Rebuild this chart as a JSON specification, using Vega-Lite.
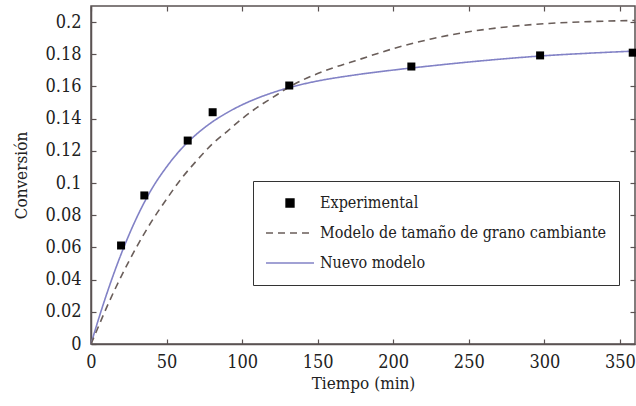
{
  "$schema": "https://vega.github.io/schema/vega-lite/v6.json",
  "autosize": {"type": "none"},
  "width": 544,
  "height": 338,
  "padding": {"left": 91, "top": 6, "right": 1, "bottom": 62},
  "background": "white",
  "config": {
    "font": "DejaVu Serif Condensed, DejaVu Serif",
    "view": {"stroke": "#5a5252", "strokeWidth": 1.5},
    "axis": {
      "grid": false,
      "domainColor": "#5a5252",
      "domainWidth": 1.5,
      "tickColor": "#5a5252",
      "tickWidth": 1.2,
      "tickSize": -5,
      "labelFont": "DejaVu Serif Condensed, DejaVu Serif",
      "labelFontSize": 18,
      "labelColor": "#222222",
      "titleFont": "DejaVu Serif Condensed, DejaVu Serif",
      "titleFontSize": 17,
      "titleFontWeight": "normal",
      "titleColor": "#222222"
    }
  },
  "datasets": {
    "curves": [
      {"serie": "Nuevo modelo", "t": 0, "conv": 0},
      {"serie": "Nuevo modelo", "t": 5, "conv": 0.0155},
      {"serie": "Nuevo modelo", "t": 10, "conv": 0.0300},
      {"serie": "Nuevo modelo", "t": 15, "conv": 0.0435},
      {"serie": "Nuevo modelo", "t": 20, "conv": 0.0560},
      {"serie": "Nuevo modelo", "t": 25, "conv": 0.0675},
      {"serie": "Nuevo modelo", "t": 30, "conv": 0.0780},
      {"serie": "Nuevo modelo", "t": 35, "conv": 0.0875},
      {"serie": "Nuevo modelo", "t": 40, "conv": 0.0960},
      {"serie": "Nuevo modelo", "t": 50, "conv": 0.1100},
      {"serie": "Nuevo modelo", "t": 60, "conv": 0.1215},
      {"serie": "Nuevo modelo", "t": 70, "conv": 0.1305},
      {"serie": "Nuevo modelo", "t": 80, "conv": 0.1378},
      {"serie": "Nuevo modelo", "t": 90, "conv": 0.1437},
      {"serie": "Nuevo modelo", "t": 100, "conv": 0.1486},
      {"serie": "Nuevo modelo", "t": 110, "conv": 0.1527},
      {"serie": "Nuevo modelo", "t": 120, "conv": 0.1561},
      {"serie": "Nuevo modelo", "t": 130, "conv": 0.1590},
      {"serie": "Nuevo modelo", "t": 140, "conv": 0.1614},
      {"serie": "Nuevo modelo", "t": 150, "conv": 0.1634},
      {"serie": "Nuevo modelo", "t": 175, "conv": 0.1672},
      {"serie": "Nuevo modelo", "t": 200, "conv": 0.1702},
      {"serie": "Nuevo modelo", "t": 225, "conv": 0.1728},
      {"serie": "Nuevo modelo", "t": 250, "conv": 0.1752},
      {"serie": "Nuevo modelo", "t": 275, "conv": 0.1773},
      {"serie": "Nuevo modelo", "t": 300, "conv": 0.1791},
      {"serie": "Nuevo modelo", "t": 330, "conv": 0.1807},
      {"serie": "Nuevo modelo", "t": 360, "conv": 0.1820},
      {"serie": "Modelo de tamaño de grano cambiante", "t": 0, "conv": 0},
      {"serie": "Modelo de tamaño de grano cambiante", "t": 5, "conv": 0.011},
      {"serie": "Modelo de tamaño de grano cambiante", "t": 10, "conv": 0.022},
      {"serie": "Modelo de tamaño de grano cambiante", "t": 20, "conv": 0.042},
      {"serie": "Modelo de tamaño de grano cambiante", "t": 30, "conv": 0.060},
      {"serie": "Modelo de tamaño de grano cambiante", "t": 40, "conv": 0.076},
      {"serie": "Modelo de tamaño de grano cambiante", "t": 50, "conv": 0.090},
      {"serie": "Modelo de tamaño de grano cambiante", "t": 60, "conv": 0.103},
      {"serie": "Modelo de tamaño de grano cambiante", "t": 70, "conv": 0.114},
      {"serie": "Modelo de tamaño de grano cambiante", "t": 80, "conv": 0.124},
      {"serie": "Modelo de tamaño de grano cambiante", "t": 90, "conv": 0.132},
      {"serie": "Modelo de tamaño de grano cambiante", "t": 100, "conv": 0.140},
      {"serie": "Modelo de tamaño de grano cambiante", "t": 110, "conv": 0.147},
      {"serie": "Modelo de tamaño de grano cambiante", "t": 120, "conv": 0.153},
      {"serie": "Modelo de tamaño de grano cambiante", "t": 130, "conv": 0.159},
      {"serie": "Modelo de tamaño de grano cambiante", "t": 140, "conv": 0.164},
      {"serie": "Modelo de tamaño de grano cambiante", "t": 150, "conv": 0.168},
      {"serie": "Modelo de tamaño de grano cambiante", "t": 160, "conv": 0.1715},
      {"serie": "Modelo de tamaño de grano cambiante", "t": 175, "conv": 0.176},
      {"serie": "Modelo de tamaño de grano cambiante", "t": 200, "conv": 0.1835},
      {"serie": "Modelo de tamaño de grano cambiante", "t": 225, "conv": 0.1895},
      {"serie": "Modelo de tamaño de grano cambiante", "t": 250, "conv": 0.194},
      {"serie": "Modelo de tamaño de grano cambiante", "t": 275, "conv": 0.197},
      {"serie": "Modelo de tamaño de grano cambiante", "t": 300, "conv": 0.199},
      {"serie": "Modelo de tamaño de grano cambiante", "t": 330, "conv": 0.2003},
      {"serie": "Modelo de tamaño de grano cambiante", "t": 360, "conv": 0.201}
    ],
    "exp": [
      {"t": 19.9, "conv": 0.0612},
      {"t": 35.3, "conv": 0.0923},
      {"t": 64.0, "conv": 0.1264},
      {"t": 80.5, "conv": 0.144},
      {"t": 131.2, "conv": 0.1606},
      {"t": 212.0, "conv": 0.1724},
      {"t": 297.2, "conv": 0.1793},
      {"t": 358.5, "conv": 0.181}
    ]
  },
  "layer": [
    {
      "data": {"name": "curves"},
      "mark": {"type": "line", "interpolate": "monotone", "strokeWidth": 1.6},
      "encoding": {
        "x": {"field": "t", "type": "quantitative", "scale": {"domain": [0, 360], "nice": false, "zero": false},
              "axis": {"orient": "bottom", "values": [0, 50, 100, 150, 200, 250, 300, 350], "title": "Tiempo (min)", "labelPadding": 14, "titlePadding": 4, "labelFlush": false}},
        "y": {"field": "conv", "type": "quantitative", "scale": {"domain": [0, 0.21], "nice": false},
              "axis": {"orient": "left", "values": [0, 0.02, 0.04, 0.06, 0.08, 0.1, 0.12, 0.14, 0.16, 0.18, 0.2], "format": "~g", "title": "Conversión", "labelPadding": 15, "titlePadding": 14, "labelFlush": false}},
        "color": {
          "field": "serie", "type": "nominal",
          "scale": {"domain": ["Experimental", "Modelo de tamaño de grano cambiante", "Nuevo modelo"], "range": ["#000000", "#6a5e5a", "#8282c6"]},
          "legend": {
            "title": null,
            "orient": "none",
            "legendX": 162,
            "legendY": 175,
            "padding": 12,
            "strokeColor": "#333333",
            "fillColor": "white",
            "labelFont": "DejaVu Serif Condensed, DejaVu Serif",
            "labelFontSize": 16,
            "labelColor": "#222222",
            "labelOffset": 5,
            "symbolSize": 2304,
            "symbolType": "stroke",
            "clipHeight": 20,
            "rowPadding": 10,
            "labelLimit": 400,
            "encode": {
              "symbols": {
                "update": {
                  "shape": {"signal": "datum.value === 'Experimental' ? 'square' : 'stroke'"},
                  "size": {"signal": "datum.value === 'Experimental' ? 60 : 2304"},
                  "fill": {"signal": "datum.value === 'Experimental' ? '#000000' : 'transparent'"},
                  "stroke": {"signal": "datum.value === 'Experimental' ? 'transparent' : (datum.value === 'Nuevo modelo' ? '#8282c6' : '#6a5e5a')"},
                  "strokeDash": {"signal": "datum.value === 'Modelo de tamaño de grano cambiante' ? [7, 5] : [1, 0]"},
                  "strokeWidth": {"value": 1.6}
                }
              }
            }
          }
        },
        "strokeDash": {
          "field": "serie", "type": "nominal",
          "scale": {"domain": ["Modelo de tamaño de grano cambiante", "Nuevo modelo"], "range": [[7, 5], [1, 0]]},
          "legend": null
        }
      }
    },
    {
      "data": {"name": "exp"},
      "mark": {"type": "point", "shape": "square", "filled": true, "size": 64, "color": "#000000", "opacity": 1},
      "encoding": {
        "x": {"field": "t", "type": "quantitative", "axis": null},
        "y": {"field": "conv", "type": "quantitative", "axis": null}
      }
    },
    {
      "data": {"name": "exp"},
      "mark": {"type": "point", "opacity": 0},
      "encoding": {
        "x": {"field": "t", "type": "quantitative",
              "axis": {"orient": "top", "values": [0, 50, 100, 150, 200, 250, 300, 350], "labels": false, "title": null, "domain": false}},
        "y": {"field": "conv", "type": "quantitative",
              "axis": {"orient": "right", "values": [0, 0.02, 0.04, 0.06, 0.08, 0.1, 0.12, 0.14, 0.16, 0.18, 0.2], "labels": false, "title": null, "domain": false}}
      }
    }
  ],
  "resolve": {"axis": {"x": "independent", "y": "independent"}}
}
